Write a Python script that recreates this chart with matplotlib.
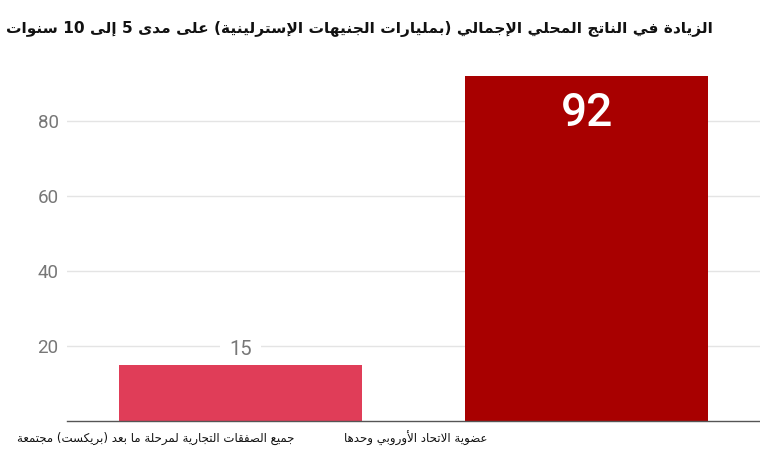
import re
import matplotlib
matplotlib.use('Agg')
import matplotlib.pyplot as plt

## Data
categories = ['جميع الصفقات التجارية لمرحلة ما بعد (بريكست) مجتمعة',
              'عضوية الاتحاد الأوروبي وحدها']
values = [15, 92]
bar_colors = ['#e03d58', '#a80000']
yticks = [20, 40, 60, 80]
title = 'الزيادة في الناتج المحلي الإجمالي (بمليارات الجنيهات الإسترلينية) على مدى 5 إلى 10 سنوات'

## Minimal Arabic shaping (matplotlib has no bidi / shaping)
DUAL = {'ئ': 0xFE89, 'ب': 0xFE8F, 'ت': 0xFE95, 'ث': 0xFE99, 'ج': 0xFE9D,
        'ح': 0xFEA1, 'خ': 0xFEA5, 'س': 0xFEB1, 'ش': 0xFEB5, 'ص': 0xFEB9,
        'ض': 0xFEBD, 'ط': 0xFEC1, 'ظ': 0xFEC5, 'ع': 0xFEC9, 'غ': 0xFECD,
        'ف': 0xFED1, 'ق': 0xFED5, 'ك': 0xFED9, 'ل': 0xFEDD, 'م': 0xFEE1,
        'ن': 0xFEE5, 'ه': 0xFEE9, 'ي': 0xFEF1}
RIGHT = {'آ': 0xFE81, 'أ': 0xFE83, 'ؤ': 0xFE85, 'إ': 0xFE87, 'ا': 0xFE8D,
         'ة': 0xFE93, 'د': 0xFEA9, 'ذ': 0xFEAB, 'ر': 0xFEAD, 'ز': 0xFEAF,
         'و': 0xFEED, 'ى': 0xFEEF}
LAM_ALEF = {'لآ': 0xFEF5, 'لأ': 0xFEF7, 'لإ': 0xFEF9, 'لا': 0xFEFB}
for lig in LAM_ALEF.values():
    RIGHT[chr(lig)] = lig


def shape(s):
    for pair, lig in LAM_ALEF.items():
        s = s.replace(pair, chr(lig))
    out = []
    for i, c in enumerate(s):
        if c not in DUAL and c not in RIGHT:
            out.append(c)
            continue
        prev = s[i-1] if i > 0 else ''
        nxt = s[i+1] if i + 1 < len(s) else ''
        jp = prev in DUAL
        if c in DUAL:
            jn = nxt in DUAL or nxt in RIGHT
            form = 3 if (jp and jn) else 2 if jn else 1 if jp else 0
            out.append(chr(DUAL[c] + form))
        else:
            out.append(chr(RIGHT[c] + (1 if jp else 0)))
    return ''.join(out)


def rtl(s):
    tokens = re.findall(r'[0-9]+|.', shape(s))
    mirror = {'(': ')', ')': '('}
    return ''.join(mirror.get(t, t) for t in reversed(tokens))


def fit(txt, width_px):
    # scale font so the text spans the given width
    fig.canvas.draw()
    w = txt.get_window_extent(fig.canvas.get_renderer()).width
    txt.set_fontsize(txt.get_fontsize() * width_px / w)


## Plot
fig = plt.figure(figsize=(7.6, 4.53), dpi=100)
ax = fig.add_axes([67/760, 32/453, 693/760, 345/453])

x = list(range(len(values)))
ax.bar(x, values, width=0.70, color=bar_colors, zorder=3, clip_on=False)

ax.set_xlim(-0.5, 1.5)
ax.set_ylim(0, 92)
ax.set_yticks(yticks)
ax.set_yticklabels([str(t) for t in yticks], fontfamily='Roboto',
                   fontsize=13.5, color='#777777')
ax.tick_params(axis='y', length=0, pad=6)
ax.set_xticks([])
ax.grid(axis='y', color='#e4e4e4', linewidth=1, zorder=0)

for s in ['top', 'right', 'left']:
    ax.spines[s].set_visible(False)
ax.spines['bottom'].set_color('#555555')
ax.spines['bottom'].set_linewidth(1)
ax.spines['bottom'].set_zorder(4)

# value labels
ax.annotate(str(values[0]), xy=(x[0], values[0]), xytext=(0, 11),
            textcoords='offset points', ha='center', va='center',
            fontfamily='Roboto', fontsize=14.5, color='#777777', zorder=2,
            bbox=dict(boxstyle='square,pad=0.45', fc='white', ec='none'))
ax.annotate(str(values[1]), xy=(x[1], values[1]), xytext=(0, -26.5),
            textcoords='offset points', ha='center', va='center',
            fontfamily='Roboto', fontsize=33, fontweight='medium',
            color='white', zorder=5)

# category labels (placed as in the source, left of the bar centres)
label_x = [-0.244, 0.507]
for lx, c in zip(label_x, categories):
    ax.text(lx, -0.05, rtl(c), transform=ax.get_xaxis_transform(),
            ha='center', va='center', fontfamily='DejaVu Sans',
            fontsize=8.5, color='#111111')

t = fig.text(713/760, 1 - 29/453, rtl(title), ha='right', va='center',
             fontfamily='DejaVu Sans', fontsize=13, fontweight='bold',
             color='#111111')
fit(t, 706)

fig.savefig('out.png', dpi=100, facecolor='white')
